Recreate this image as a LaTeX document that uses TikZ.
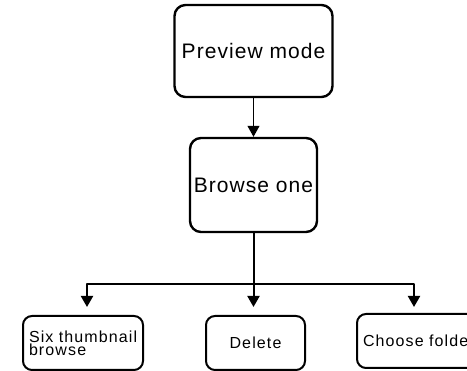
\documentclass[tikz,border=0pt]{standalone}
\usepackage{fontspec}
\setmainfont{Liberation Sans}
\newfontfamily\bigboxfont[LetterSpace=5]{Liberation Sans}
\newfontfamily\smallboxfont[LetterSpace=7]{Liberation Sans}
\usetikzlibrary{arrows.meta}
\begin{document}
\begin{tikzpicture}[x=1pt, y=-1pt, line join=round,
		bigbox/.style={draw, line width=2.4pt, rounded corners=11pt, inner sep=0pt,
			font=\bigboxfont\fontsize{21}{24}\selectfont},
		smallbox/.style={draw, line width=2pt, rounded corners=9pt, inner xsep=6pt, inner ysep=0pt,
			minimum height=54pt, align=left,
			font=\smallboxfont\fontsize{16}{13}\selectfont},
		thinarrow/.style={line width=1.1pt, -{Triangle[width=12pt,length=11pt]}},
		thickarrow/.style={line width=2pt, -{Triangle[width=12pt,length=11pt]}}]
		% Page frame
		\useasboundingbox (0,0) rectangle (467,371);
		
		% Upper boxes
		\node[bigbox, minimum width=158pt, minimum height=92pt] (preview) at (253.5,51) {Preview mode};
		\node[bigbox, minimum width=127pt, minimum height=94pt] (browse) at (253.5,185) {Browse one};
		
		% Lower boxes
		\node[smallbox, minimum width=120pt, text width=108pt] (six) at (83,343) {Six thumbnail\\browse};
		\node[smallbox, minimum width=99pt, align=center] (delete) at (255.5,343) {Delete};
		\node[smallbox, minimum width=125pt, text width=113pt] (folder) at (419.5,341) {Choose folder};
		
		% Branch points and arrow ends
		\coordinate (split) at (253.5,284);
		\coordinate (tipsix) at (87,307);
		\coordinate (tipdelete) at (253.5,307);
		\coordinate (tipfolder) at (414,307);
		
		% Connectors
		\draw[thinarrow] (preview.south) -- (browse.north);
		\draw[thickarrow] (browse.south) -- (tipdelete);
		\draw[thickarrow] (split) -| (tipsix);
		\draw[thickarrow] (split) -| (tipfolder);
\end{tikzpicture}
\end{document}
